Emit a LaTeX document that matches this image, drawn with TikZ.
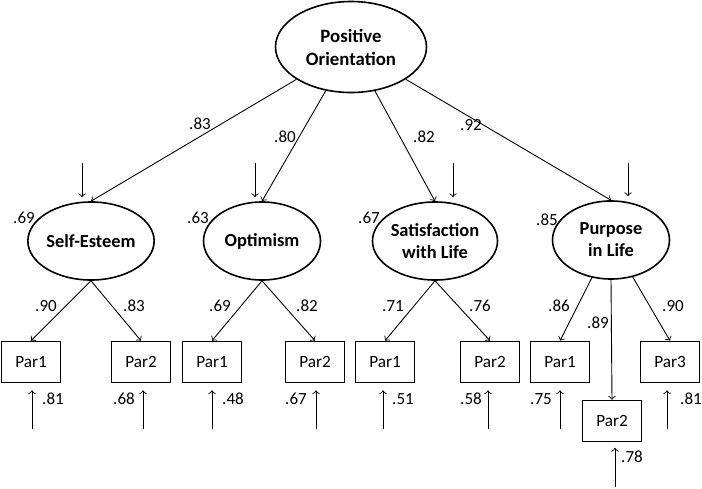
\documentclass[tikz,border=0pt]{standalone}
\usepackage{fontspec}
\setmainfont{Carlito}
\usetikzlibrary{shapes}
\usetikzlibrary{positioning}
\usetikzlibrary{arrows}

\tikzset{
	factor/.style={draw, ellipse, line width=0.8pt, minimum width=58.5pt, minimum height=39pt, inner sep=0pt, align=center, font=\fontsize{9.2}{11}\selectfont\bfseries},
	parcel/.style={draw, rectangle, line width=0.8pt, minimum width=29.5pt, minimum height=20.5pt, inner sep=0pt, font=\fontsize{8.6}{10}\selectfont},
	coef/.style={inner sep=0pt, font=\fontsize{8.5}{10}\selectfont},
	loadarrow/.style={->, line width=0.45pt},
}

\begin{document}
\begin{tikzpicture}[x=0.5pt, y=-0.5pt]
			\useasboundingbox (0,0) rectangle (702,488);

			% latent factors
			\node[factor, minimum width=75.5pt, minimum height=45.5pt, font=\fontsize{9.4}{11.5}\selectfont\bfseries] (po) at (351,47) {Positive\\Orientation};
			\node[factor] (se) at (91,241) {Self-Esteem};
			\node[factor] (op) at (262,241) {Optimism};
			\node[factor] (sw) at (435,241) {Satisfaction\\with Life};
			\node[factor] (pl) at (611,240) {Purpose\\in Life};

			% parcels
			\node[parcel] (se1) at (31,362) {Par1};
			\node[parcel] (se2) at (141,362) {Par2};
			\node[parcel] (op1) at (212,362) {Par1};
			\node[parcel] (op2) at (315,362) {Par2};
			\node[parcel] (sw1) at (385,362) {Par1};
			\node[parcel] (sw2) at (490,362) {Par2};
			\node[parcel] (pl1) at (560,362) {Par1};
			\node[parcel] (pl2) at (612,421) {Par2};
			\node[parcel] (pl3) at (670,362) {Par3};

			\draw[loadarrow] (po) -- (se.north);
			\draw[loadarrow] (po) -- (op.north);
			\draw[loadarrow] (po) -- (sw.north);
			\draw[loadarrow] (po) -- (pl.north);

			\draw[loadarrow] (se.south) -- (se1.north);
			\draw[loadarrow] (se.south) -- (se2.north);
			\draw[loadarrow] (op.south) -- (op1.north);
			\draw[loadarrow] (op.south) -- (op2.north);
			\draw[loadarrow] (sw.south) -- (sw1.north);
			\draw[loadarrow] (sw.south) -- (sw2.north);
			\draw[loadarrow] (pl) -- (pl1.north);
			\draw[loadarrow] (pl.south) -- (pl2.north);
			\draw[loadarrow] (pl) -- (pl3.north);

			% disturbances
			\coordinate (d1) at (82,163);
			\coordinate (d2) at (255,163);
			\coordinate (d3) at (453,163);
			\coordinate (d4) at (628,163);
			\draw[loadarrow, shorten >=2pt] (d1) -- (d1 |- se.north);
			\draw[loadarrow, shorten >=2pt] (d2) -- (d2 |- op.north);
			\draw[loadarrow, shorten >=2pt] (d3) -- (d3 |- sw.north);
			\draw[loadarrow, shorten >=2pt] (d4) -- (d4 |- pl.north);

			% errors
			\coordinate (e1) at (32,429);
			\coordinate (e2) at (143,429);
			\coordinate (e3) at (212,429);
			\coordinate (e4) at (316,429);
			\coordinate (e5) at (383,429);
			\coordinate (e6) at (488,429);
			\coordinate (e7) at (560,429);
			\coordinate (e8) at (615,487);
			\coordinate (e9) at (667,429);
			\draw[loadarrow, shorten >=3.5pt] (e1) -- (e1 |- se1.south);
			\draw[loadarrow, shorten >=3.5pt] (e2) -- (e2 |- se2.south);
			\draw[loadarrow, shorten >=3.5pt] (e3) -- (e3 |- op1.south);
			\draw[loadarrow, shorten >=3.5pt] (e4) -- (e4 |- op2.south);
			\draw[loadarrow, shorten >=3.5pt] (e5) -- (e5 |- sw1.south);
			\draw[loadarrow, shorten >=3.5pt] (e6) -- (e6 |- sw2.south);
			\draw[loadarrow, shorten >=3.5pt] (e7) -- (e7 |- pl1.south);
			\draw[loadarrow, shorten >=2.75pt] (e8) -- (e8 |- pl2.south);
			\draw[loadarrow, shorten >=3.5pt] (e9) -- (e9 |- pl3.south);

			% coefficients
			\node[coef] (c1) at (200,124) {.83};
			\node[coef] (c2) at (285,137) {.80};
			\node[coef] (c3) at (424,137) {.82};
			\node[coef] (c4) at (471,125) {.92};

			\node[coef] (r1) at (24,218) {.69};
			\node[coef] (r2) at (198,218) {.63};
			\node[coef] (r3) at (369,218) {.67};
			\node[coef] (r4) at (547,220) {.85};

			\node[coef] (c5) at (46,306) {.90};
			\node[coef] (c6) at (134,306) {.83};
			\node[coef] (c7) at (220,306) {.69};
			\node[coef] (c8) at (307,306) {.82};
			\node[coef] (c9) at (393,306) {.71};
			\node[coef] (c10) at (480,306) {.76};
			\node[coef] (c11) at (559,306) {.86};
			\node[coef] (c12) at (598,323) {.89};
			\node[coef] (c13) at (673,306) {.90};

			\node[coef] (u1) at (53,399) {.81};
			\node[coef] (u2) at (124,399) {.68};
			\node[coef] (u3) at (233,399) {.48};
			\node[coef] (u4) at (296,399) {.67};
			\node[coef] (u5) at (403,399) {.51};
			\node[coef] (u6) at (471,399) {.58};
			\node[coef] (u7) at (541,399) {.75};
			\node[coef] (u8) at (632,457) {.78};
			\node[coef] (u9) at (691,399) {.81};
\end{tikzpicture}
\end{document}
